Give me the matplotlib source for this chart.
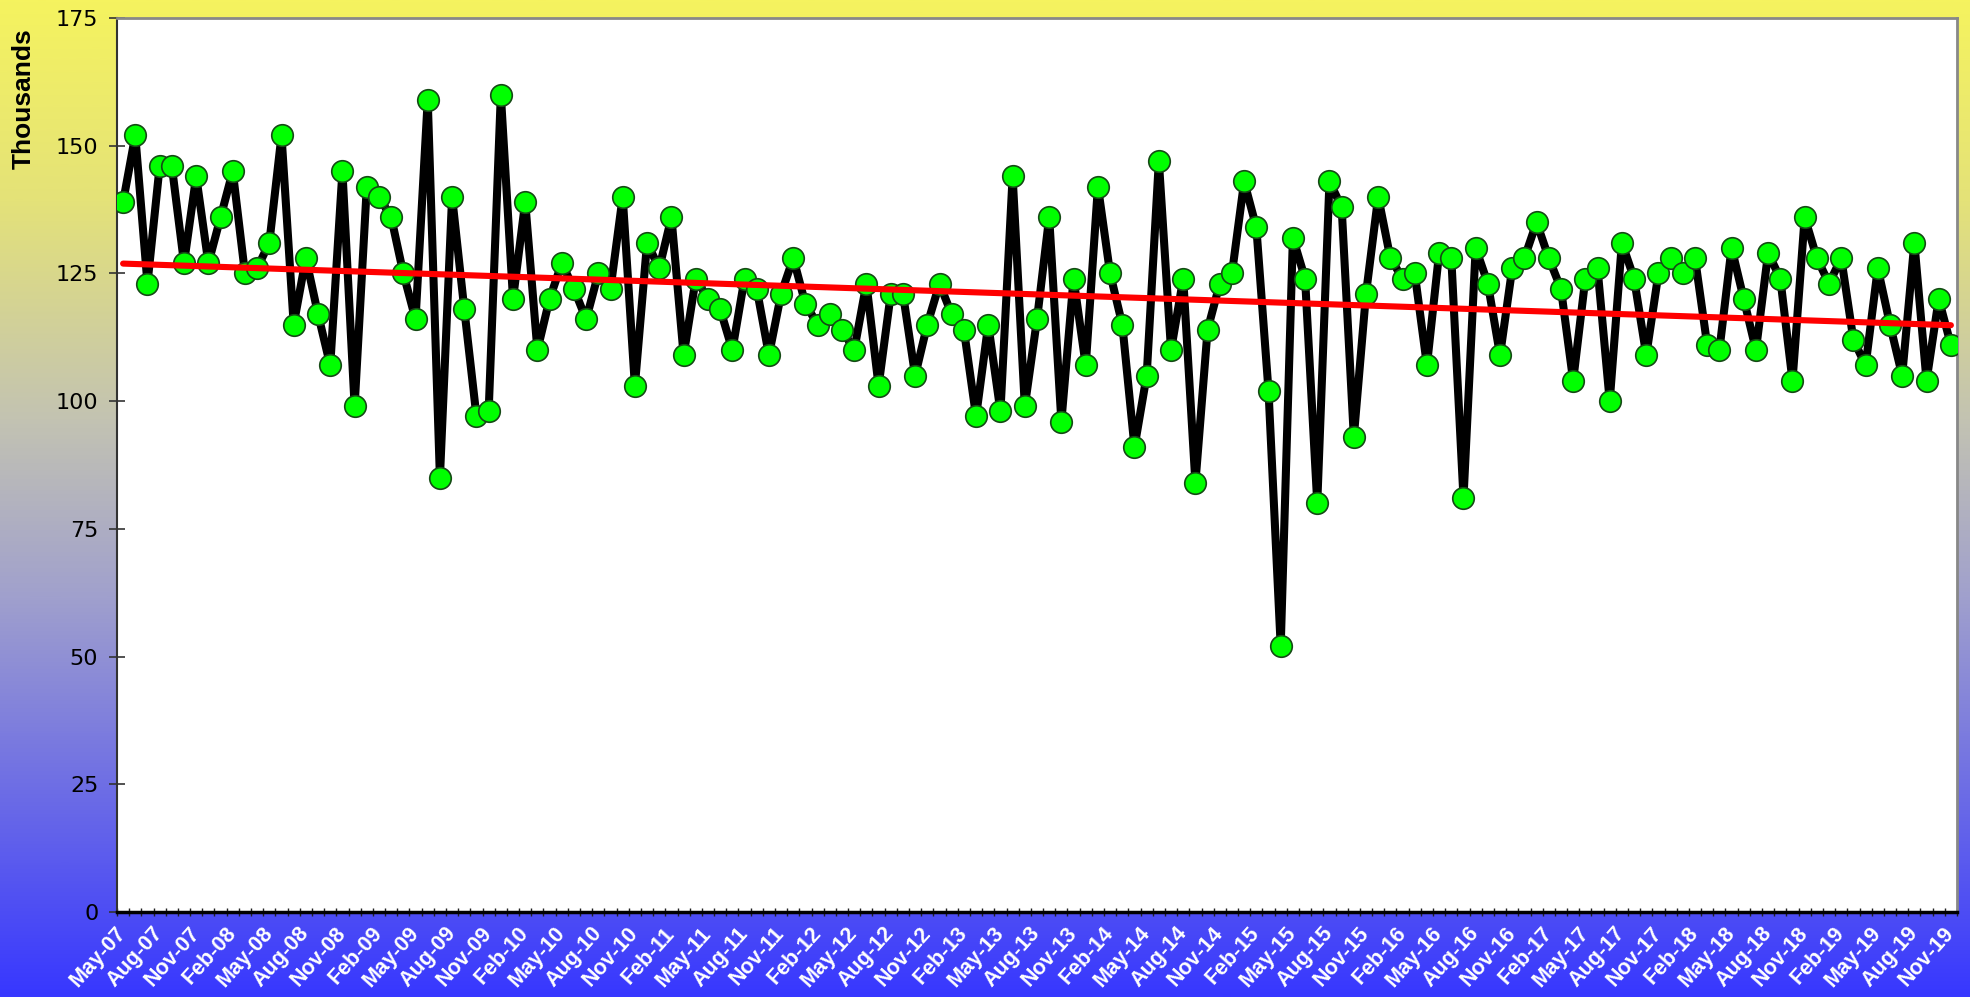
import numpy as np
import matplotlib
matplotlib.use("Agg")
import matplotlib.pyplot as plt
from matplotlib.colors import LinearSegmentedColormap

# ---- data (thousands) ----
start_year, start_month = 2007, 5
values = [
    139, 152, 123, 146, 146, 127, 144, 127, 136, 145, 125, 126, 131, 152, 115, 128, 117, 107, 145, 99,
    142, 140, 136, 125, 116, 159, 85, 140, 118, 97, 98, 160, 120, 139, 110, 120, 127, 122, 116, 125,
    122, 140, 103, 131, 126, 136, 109, 124, 120, 118, 110, 124, 122, 109, 121, 128, 119, 115, 117, 114,
    110, 123, 103, 121, 121, 105, 115, 123, 117, 114, 97, 115, 98, 144, 99, 116, 136, 96, 124, 107,
    142, 125, 115, 91, 105, 147, 110, 124, 84, 114, 123, 125, 143, 134, 102, 52, 132, 124, 80, 143,
    138, 93, 121, 140, 128, 124, 125, 107, 129, 128, 81, 130, 123, 109, 126, 128, 135, 128, 122, 104,
    124, 126, 100, 131, 124, 109, 125, 128, 125, 128, 111, 110, 130, 120, 110, 129, 124, 104, 136, 128,
    123, 128, 112, 107, 126, 115, 105, 131, 104, 120, 111,
]
month_names = ["Jan", "Feb", "Mar", "Apr", "May", "Jun", "Jul", "Aug", "Sep", "Oct", "Nov", "Dec"]
labels = []
for i in range(len(values)):
    m = (start_month - 1 + i) % 12
    y = start_year + (start_month - 1 + i) // 12
    labels.append(f"{month_names[m]}-{y % 100:02d}")
y_ticks = [0, 25, 50, 75, 100, 125, 150, 175]
y_label = "Thousands"

# ---- figure ----
W, H = 1970, 997
fig = plt.figure(figsize=(W / 100, H / 100), dpi=100)

# gradient background
bg = fig.add_axes([0, 0, 1, 1], zorder=-10)
cmap = LinearSegmentedColormap.from_list(
    "bg",
    [(0.0, (245/255, 243/255, 95/255)),
     (0.2, (228/255, 226/255, 120/255)),
     (0.42, (195/255, 195/255, 178/255)),
     (0.6, (160/255, 160/255, 205/255)),
     (1.0, (55/255, 55/255, 255/255))])
grad = np.linspace(0, 1, 512).reshape(-1, 1)
bg.imshow(grad, aspect="auto", cmap=cmap, extent=[0, 1, 0, 1], origin="upper")
bg.set_axis_off()

ax = fig.add_axes([117 / W, 1 - 912 / H, (1957 - 117) / W, (912 - 18) / H])
ax.set_facecolor("white")

x = np.arange(len(values))
ax.plot(x, values, color="black", lw=5.8, marker="o", markersize=15.5,
        markerfacecolor="#00FF00", markeredgecolor="#154a15", markeredgewidth=1.2,
        solid_joinstyle="round", solid_capstyle="round", zorder=3)

# linear trendline
coef = np.polyfit(x, values, 1)
ax.plot([x[0], x[-1]], np.polyval(coef, [x[0], x[-1]]), color="#FF0000", lw=4.4,
        solid_capstyle="round", zorder=4)

ax.set_xlim(-0.5, len(values) - 0.5)
ax.set_ylim(0, 175)
ax.set_yticks(y_ticks)
ax.set_yticklabels([str(v) for v in y_ticks], fontsize=16, family="DejaVu Sans", color="black")
ax.tick_params(axis="y", direction="inout", length=11, width=1.2, color="#333333", pad=8)

ax.set_xticks(x[::3])
ax.set_xticklabels(labels[::3], rotation=48, ha="right", va="center", rotation_mode="anchor",
                   fontsize=15.5, fontweight="bold", color="white", family="Liberation Sans")
ax.tick_params(axis="x", which="major", length=0, pad=13)
ax.set_xticks(np.arange(len(values) + 1) - 0.5, minor=True)
ax.tick_params(axis="x", which="minor", direction="inout", length=6, width=1.0, color="#222222")

for side in ["top", "right"]:
    ax.spines[side].set_color("#888888")
    ax.spines[side].set_linewidth(2)
ax.spines["left"].set_color("#333333")
ax.spines["left"].set_linewidth(1.5)
ax.spines["bottom"].set_color("black")
ax.spines["bottom"].set_linewidth(2.5)

fig.text(24 / W, 1 - 99 / H, y_label, rotation=90, ha="center", va="center",
         fontsize=19, fontweight="bold", family="Liberation Sans", color="black")

fig.savefig("out.png", dpi=100)
